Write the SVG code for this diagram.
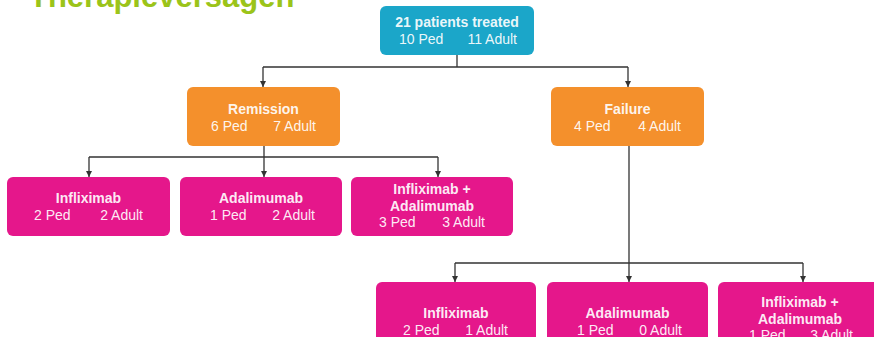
<svg xmlns="http://www.w3.org/2000/svg" width="874" height="337" viewBox="0 0 874 337">
<style>
.title{font-family:"Liberation Sans",Arial,sans-serif;font-weight:bold;font-size:31px;fill:#9bc41a}
.b{font-family:"Liberation Sans",Arial,sans-serif;font-weight:bold;font-size:14px;fill:#fff;fill-opacity:0.93;text-anchor:middle}
.r{font-family:"Liberation Sans",Arial,sans-serif;font-size:14px;fill:#fff;fill-opacity:0.93}
.e{text-anchor:end}
.cyan{fill:#1ba6c9}
.orange{fill:#f4902c}
.pink{fill:#e5178b}
.conn{fill:none;stroke:#333;stroke-width:1.3}
</style>
<defs>
<marker id="ah" viewBox="0 0 6 6" refX="6" refY="3" markerWidth="6" markerHeight="6" markerUnits="userSpaceOnUse" orient="auto">
<path d="M0,0 L6,3 L0,6 Z" fill="#333"/>
</marker>
</defs>
<rect width="874" height="337" fill="#fff"/>
<text class="title" x="29" y="7">Therapieversagen</text>
<g id="connectors">
<path class="conn" d="M457,55 V67 M263,67 H628"/>
<path class="conn" d="M263,67 V87" marker-end="url(#ah)"/>
<path class="conn" d="M628,67 V87" marker-end="url(#ah)"/>
<path class="conn" d="M264,146 V157 M89,157 H438"/>
<path class="conn" d="M89,157 V177" marker-end="url(#ah)"/>
<path class="conn" d="M264,157 V177" marker-end="url(#ah)"/>
<path class="conn" d="M438,157 V177" marker-end="url(#ah)"/>
<path class="conn" d="M629,146 V263 M455,263 H803"/>
<path class="conn" d="M455,263 V282" marker-end="url(#ah)"/>
<path class="conn" d="M629,263 V282" marker-end="url(#ah)"/>
<path class="conn" d="M803,263 V282" marker-end="url(#ah)"/>
</g>
<g id="root">
<rect class="cyan" x="380" y="6" width="154" height="49" rx="6"/>
<text class="b" x="457" y="27">21 patients treated</text>
<text class="r" x="399" y="44">10 Ped</text><text class="r e" x="517" y="44">11 Adult</text>
</g>
<g id="remission">
<rect class="orange" x="187" y="87" width="153" height="59" rx="6"/>
<text class="b" x="263.5" y="114">Remission</text>
<text class="r" x="211" y="131">6 Ped</text><text class="r e" x="316" y="131">7 Adult</text>
</g>
<g id="failure">
<rect class="orange" x="551" y="87" width="153" height="59" rx="6"/>
<text class="b" x="627.5" y="114">Failure</text>
<text class="r" x="574" y="131">4 Ped</text><text class="r e" x="681" y="131">4 Adult</text>
</g>
<g id="rem-infliximab">
<rect class="pink" x="7" y="177" width="163" height="59" rx="6"/>
<text class="b" x="88.5" y="203">Infliximab</text>
<text class="r" x="34" y="220">2 Ped</text><text class="r e" x="143" y="220">2 Adult</text>
</g>
<g id="rem-adalimumab">
<rect class="pink" x="180" y="177" width="162" height="59" rx="6"/>
<text class="b" x="261" y="203">Adalimumab</text>
<text class="r" x="210" y="220">1 Ped</text><text class="r e" x="315" y="220">2 Adult</text>
</g>
<g id="rem-both">
<rect class="pink" x="351" y="177" width="162" height="59" rx="6"/>
<text class="b" x="432" y="194">Infliximab +</text>
<text class="b" x="432" y="211">Adalimumab</text>
<text class="r" x="379" y="227">3 Ped</text><text class="r e" x="485" y="227">3 Adult</text>
</g>
<g id="fail-infliximab">
<rect class="pink" x="376" y="282" width="160" height="64" rx="6"/>
<text class="b" x="456" y="318">Infliximab</text>
<text class="r" x="403" y="335">2 Ped</text><text class="r e" x="508" y="335">1 Adult</text>
</g>
<g id="fail-adalimumab">
<rect class="pink" x="547" y="282" width="161" height="64" rx="6"/>
<text class="b" x="627.5" y="318">Adalimumab</text>
<text class="r" x="577" y="335">1 Ped</text><text class="r e" x="682" y="335">0 Adult</text>
</g>
<g id="fail-both">
<rect class="pink" x="718" y="282" width="163" height="64" rx="6"/>
<text class="b" x="800" y="307">Infliximab +</text>
<text class="b" x="800" y="324">Adalimumab</text>
<text class="r" x="749" y="340">1 Ped</text><text class="r e" x="853" y="340">3 Adult</text>
</g>
</svg>
